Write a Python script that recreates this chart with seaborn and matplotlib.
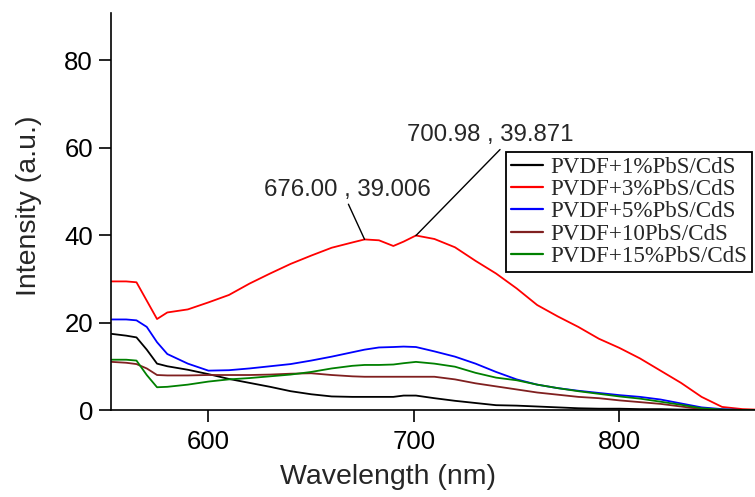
import matplotlib
matplotlib.use("Agg")
import matplotlib.pyplot as plt
import seaborn as sns
import pandas as pd

wavelength = [553, 560, 565, 570, 575, 580, 590, 600, 610, 620, 630, 640, 650, 660, 670, 676,
              683, 690, 695, 701, 710, 720, 730, 740, 750, 760, 770, 780, 790, 800, 810, 820,
              830, 840, 850, 860, 866]

pvdf_1 = [17.4, 17.0, 16.6, 13.8, 10.6, 10.0, 9.2, 8.2, 7.1, 6.2, 5.3, 4.3, 3.6, 3.1, 3.0, 3.0,
          3.0, 3.0, 3.3, 3.3, 2.7, 2.1, 1.6, 1.1, 1.0, 0.8, 0.6, 0.4, 0.3, 0.3, 0.2, 0.2,
          0.1, 0.1, 0.0, 0.0, 0.0]
pvdf_3 = [29.4, 29.4, 29.2, 25.0, 20.8, 22.3, 23.0, 24.6, 26.3, 28.9, 31.2, 33.4, 35.3, 37.1, 38.3, 39.0,
          38.8, 37.5, 38.5, 39.9, 39.1, 37.2, 34.1, 31.2, 27.8, 24.0, 21.4, 19.0, 16.3, 14.2, 11.8, 9.0,
          6.2, 3.0, 0.7, 0.2, 0.1]
pvdf_5 = [20.7, 20.7, 20.5, 19.0, 15.5, 12.8, 10.6, 9.0, 9.1, 9.5, 10.0, 10.5, 11.3, 12.2, 13.2, 13.8,
          14.3, 14.4, 14.5, 14.4, 13.4, 12.2, 10.6, 8.7, 7.0, 5.8, 5.0, 4.4, 3.9, 3.4, 3.0, 2.4,
          1.5, 0.6, 0.2, 0.0, 0.0]
pvdf_10 = [11.0, 10.8, 10.5, 9.5, 8.0, 7.9, 7.9, 8.0, 8.0, 8.0, 8.1, 8.3, 8.4, 8.0, 7.7, 7.6,
           7.6, 7.6, 7.6, 7.6, 7.6, 7.0, 6.1, 5.4, 4.7, 4.0, 3.5, 3.0, 2.7, 2.2, 1.8, 1.4,
           0.8, 0.2, 0.0, 0.0, 0.0]
pvdf_15 = [11.5, 11.5, 11.3, 8.0, 5.2, 5.3, 5.8, 6.5, 7.0, 7.3, 7.7, 8.1, 8.7, 9.5, 10.1, 10.3,
           10.3, 10.4, 10.7, 11.0, 10.6, 9.9, 8.5, 7.4, 6.8, 5.8, 5.0, 4.3, 3.7, 3.1, 2.6, 1.9,
           1.2, 0.4, 0.1, 0.0, 0.0]

labels = ["PVDF+1%PbS/CdS", "PVDF+3%PbS/CdS", "PVDF+5%PbS/CdS", "PVDF+10PbS/CdS", "PVDF+15%PbS/CdS"]
colors = ["#000000", "#FF0000", "#0000FF", "#802020", "#008000"]
series = [pvdf_1, pvdf_3, pvdf_5, pvdf_10, pvdf_15]

peak_labels = ["676.00 , 39.006", "700.98 , 39.871"]
peak_x = [676.00, 700.98]
peak_y = [39.006, 39.871]

xticks = [600, 700, 800]
yticks = [0, 20, 40, 60, 80]

frames = []
for lab, vals in zip(labels, series):
    frames.append(pd.DataFrame({"Wavelength": wavelength, "Intensity": vals, "Sample": lab}))
df = pd.concat(frames, ignore_index=True)

sns.set_style("ticks")
plt.rcParams["font.family"] = ["Liberation Sans", "DejaVu Sans"]

fig = plt.figure(figsize=(7.55, 4.97), dpi=100)
ax = fig.add_axes([111 / 755, 1 - 410 / 497, 644 / 755, 396.7 / 497])

sns.lineplot(data=df, x="Wavelength", y="Intensity", hue="Sample", hue_order=labels,
             palette=colors, estimator=None, sort=False, linewidth=1.3, ax=ax, legend=False)

ax.set_xlim(552.6, 866)
ax.set_ylim(0, 90.7)
ax.set_xticks(xticks)
ax.set_yticks(yticks)
for s in ["top", "right"]:
    ax.spines[s].set_visible(False)
for s in ["left", "bottom"]:
    ax.spines[s].set_linewidth(1.2)
    ax.spines[s].set_color("black")
ax.tick_params(axis="both", direction="out", length=8.5, width=1.2, colors="black",
               labelsize=18.5)
ax.tick_params(axis="y", pad=4.5)
ax.tick_params(axis="x", pad=6)

ax.set_xlabel("Wavelength (nm)", fontsize=20.5)
ax.set_ylabel("Intensity (a.u.)", fontsize=20.5)
ax.xaxis.set_label_coords((387.5 - 111) / 644, (410 - 464) / 396.7)
ax.yaxis.set_label_coords((42 - 111) / 644, (410 - 206) / 396.7)

# annotations
rel = [(0.5, 0.0), (0.58, 0.0)]
txt_pos = [(667.4, 47.8), (737.0, 60.3)]
for lab, px, py, (tx, ty), rp in zip(peak_labels, peak_x, peak_y, txt_pos, rel):
    ax.annotate(lab, xy=(px, py), xytext=(tx, ty), ha="center", va="bottom",
                fontsize=17.3,
                arrowprops=dict(arrowstyle="-", color="black", lw=1.0, relpos=rp,
                                shrinkA=0, shrinkB=0))

handles = [plt.Line2D([], [], color=c, lw=1.6) for c in colors]
leg = fig.legend(handles, labels, loc="upper left",
                 bbox_to_anchor=(506 / 755, 1 - 151.7 / 497), bbox_transform=fig.transFigure,
                 prop={"family": "Liberation Serif", "size": 16.6},
                 frameon=True, fancybox=False, shadow=False, borderaxespad=0,
                 labelspacing=0.05, handlelength=1.4, handletextpad=0.3, borderpad=0.22)
leg.get_frame().set_edgecolor("black")
leg.get_frame().set_linewidth(1.3)
leg.get_frame().set_alpha(1)

fig.savefig("out.png", dpi=100)
